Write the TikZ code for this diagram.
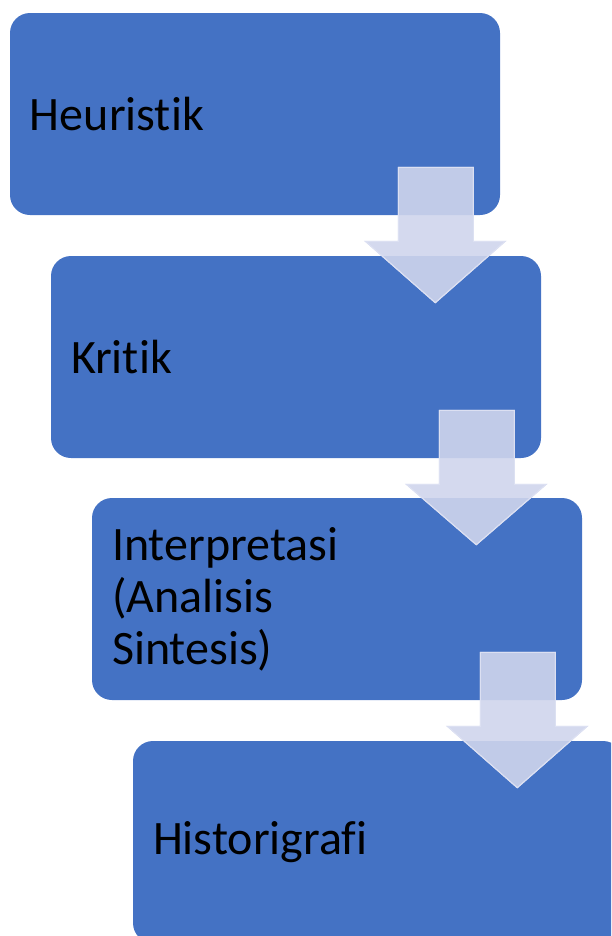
\documentclass[tikz,border=0pt]{standalone}
\usepackage{fontspec}
\setmainfont{Carlito}[Ligatures=NoCommon]
\usepackage{tikz}
\usetikzlibrary{calc}
\definecolor{StepBlue}{HTML}{4472C4}
\definecolor{StepArrow}{HTML}{CFD5EC}
\definecolor{StepEdge}{HTML}{DCE0F2}
\tikzset{
  stepbox/.style={draw=none,fill=StepBlue,rounded corners=15pt,
    minimum width=367.5pt,minimum height=151.5pt,text width=337.5pt,
    inner xsep=15pt,align=left,text=black,
    font=\fontsize{36}{39}\selectfont},
  blockflow/.style={fill=StepArrow,fill opacity=0.9,draw=StepEdge,line width=0.75pt,
    line join=miter}
}

\begin{document}
\begin{tikzpicture}[x=0.75pt,y=-0.75pt]
  \useasboundingbox (0,0) rectangle (611,936);
  \clip (0,0) rectangle (611,936);
  \foreach \name/\x/\y/\label in {heur/255/114/Heuristik,krit/296/357/Kritik,
      interp/337/599/{Interpretasi\\(Analisis\\Sintesis)},histo/378/842/Historigrafi} {
    \node[stepbox] (\name) at (\x,\y) {\label};
  }
  \foreach \a/\b in {heur/krit,krit/interp,interp/histo} {
    \fill[blockflow] ($(\a.south east)+(-102,-48)$) -- ($(\a.south east)+(-27,-48)$)
      -- ($(\a.south east)+(-27,26)$) -- ($(\a.south east)+(5,26)$)
      -- ($(\b.north east)+(-106,47)$) -- ($(\a.south east)+(-135,26)$)
      -- ($(\a.south east)+(-102,26)$) -- cycle;
    \draw[blockflow,fill=none] ($(\a.south east)+(-102,-48)$) -- ($(\a.south east)+(-27,-48)$)
      -- ($(\a.south east)+(-27,26)$) -- ($(\a.south east)+(5,26)$)
      -- ($(\b.north east)+(-106,47)$) -- ($(\a.south east)+(-135,26)$)
      -- ($(\a.south east)+(-102,26)$) -- cycle;
  }
\end{tikzpicture}
\end{document}
